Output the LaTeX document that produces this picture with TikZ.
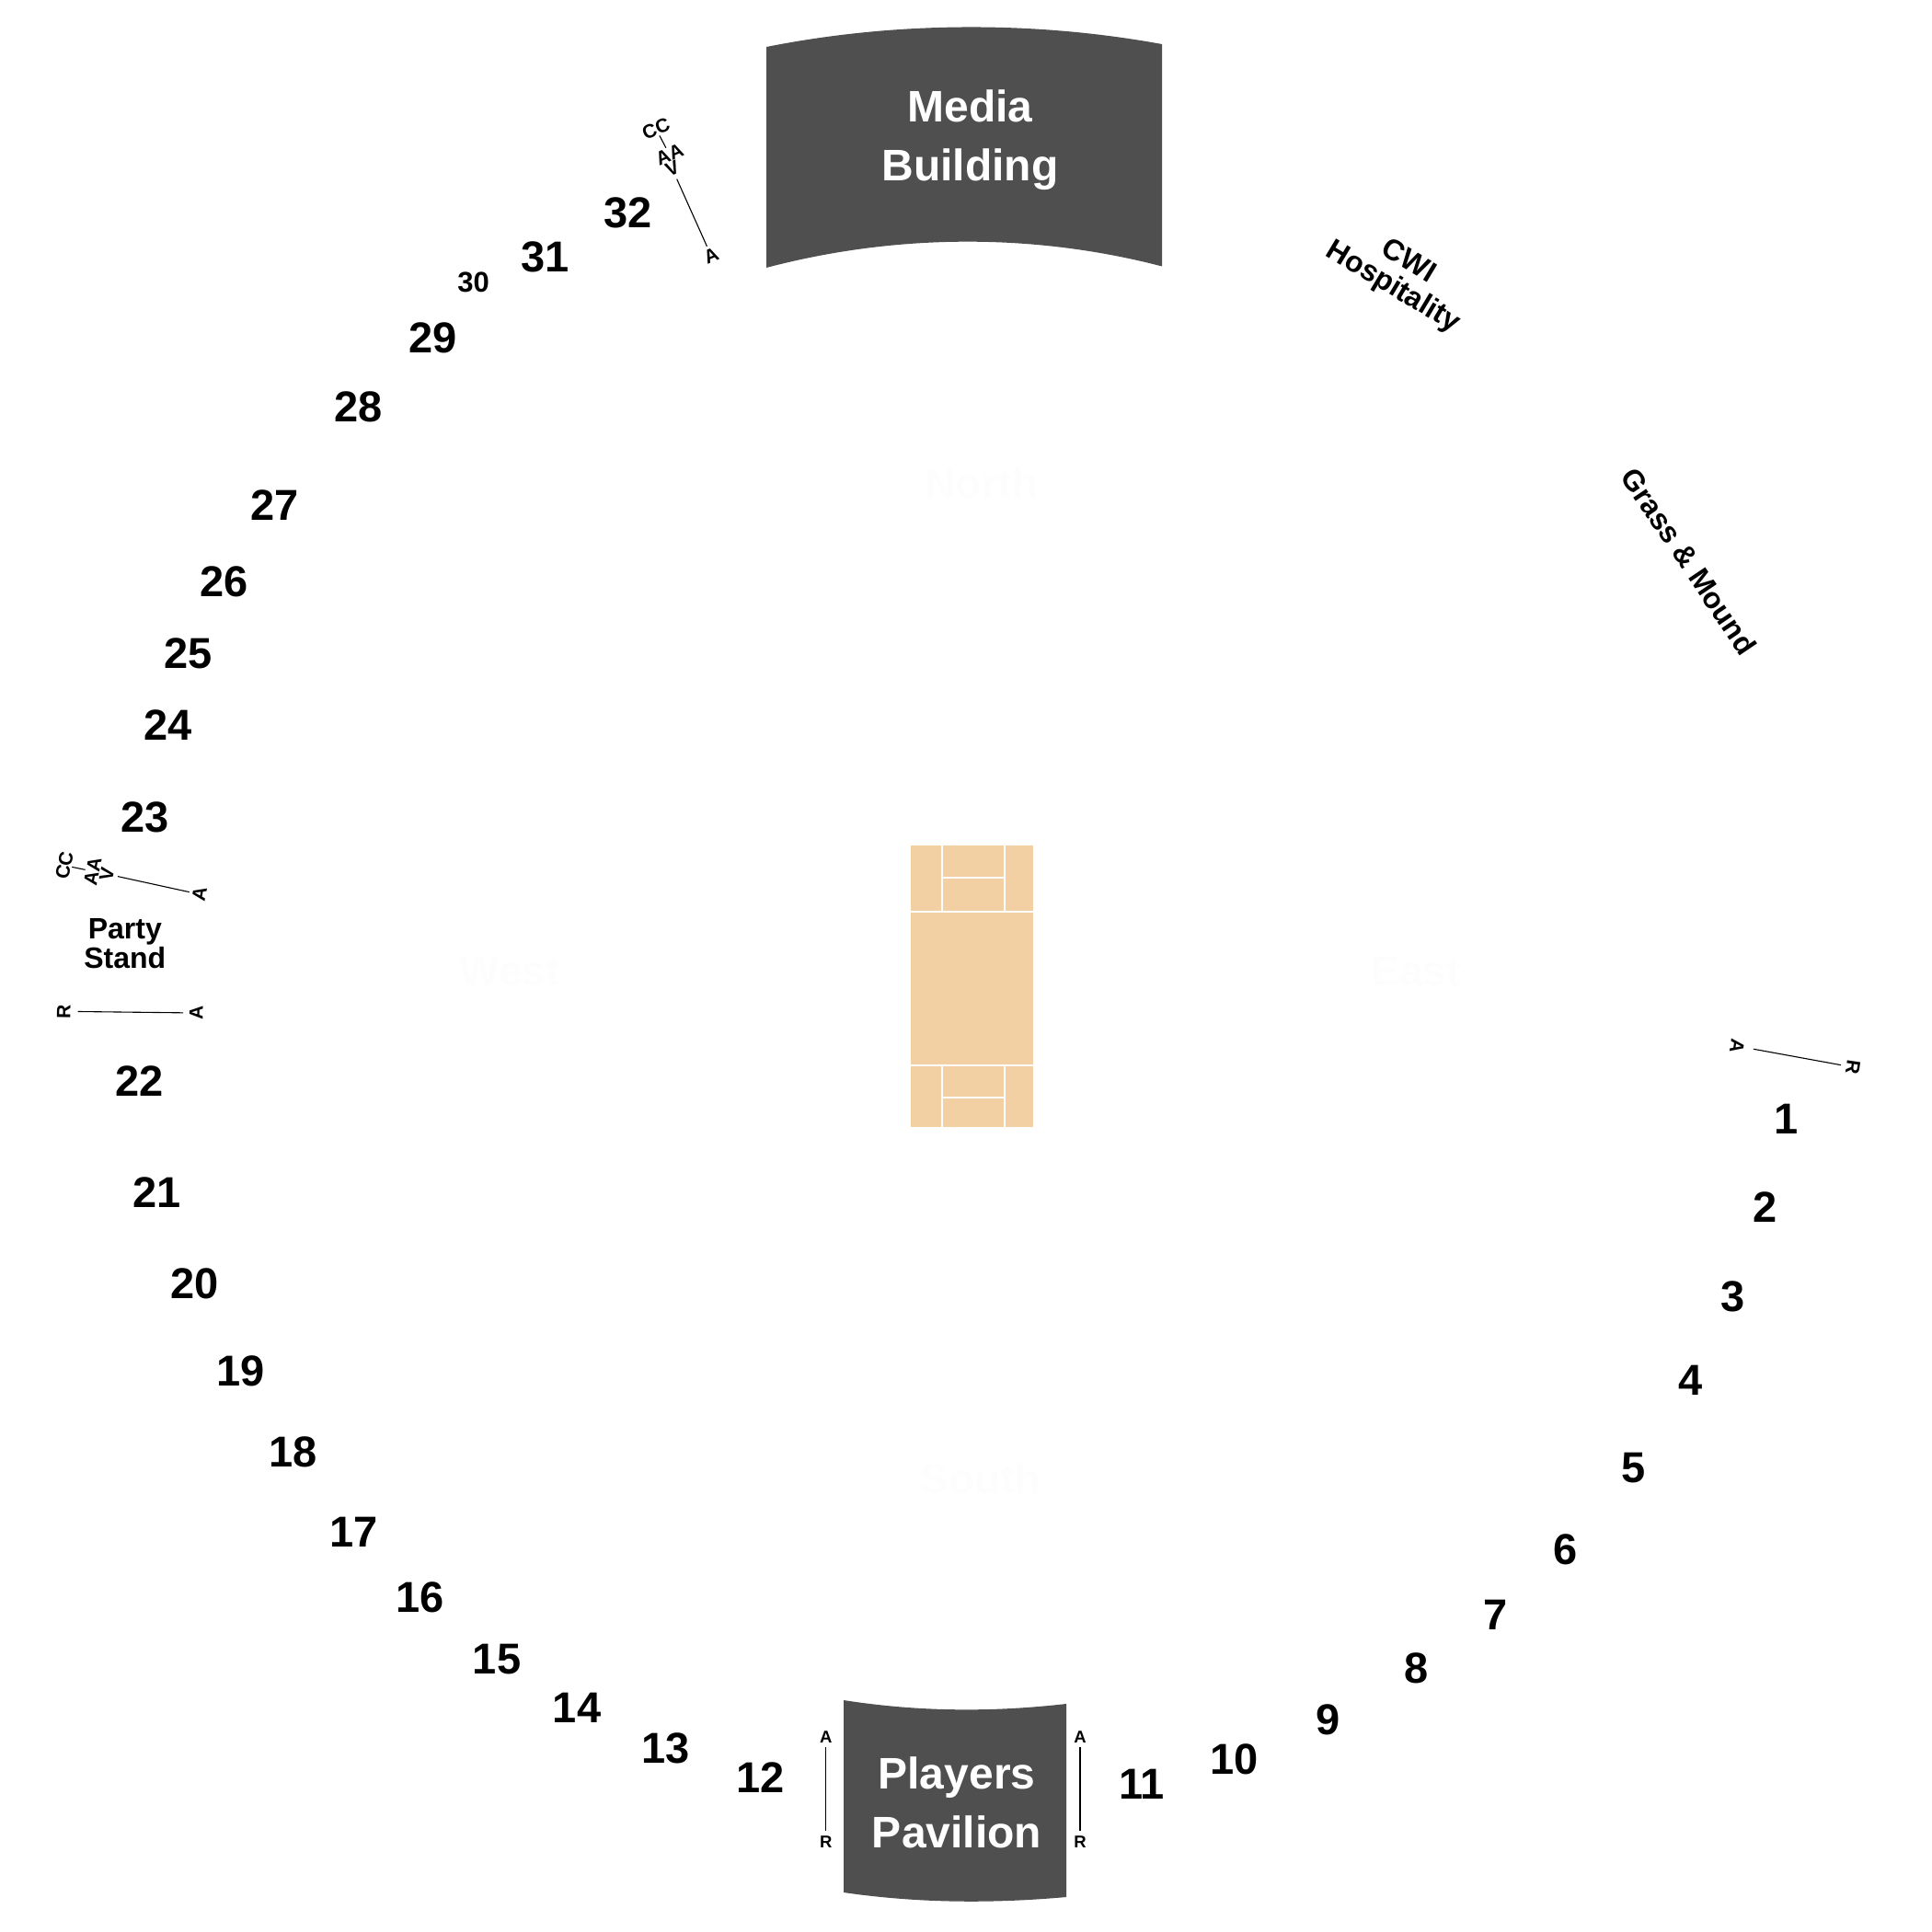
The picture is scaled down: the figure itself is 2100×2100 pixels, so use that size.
\documentclass[tikz,border=0pt]{standalone}
\usepackage{fontspec}
\setmainfont{Liberation Sans}[BoldFont={Liberation Sans Bold}]
\definecolor{bldg}{HTML}{4F4F4F}
\definecolor{pitch}{HTML}{F3D0A3}
\definecolor{ghost}{HTML}{FDFDFD}
\tikzset{
  num/.style={font=\bfseries\fontsize{47}{47}\selectfont,inner sep=0pt,outer sep=0pt,text=black},
  smallnum/.style={font=\bfseries\fontsize{31}{31}\selectfont,inner sep=0pt,outer sep=0pt,text=black},
  bigwhite/.style={font=\bfseries\fontsize{48}{64}\selectfont,text=white,align=center,inner sep=0pt},
  midblack/.style={font=\bfseries\fontsize{32}{32}\selectfont,text=black,align=center,inner sep=0pt},
  tinylet/.style={font=\bfseries\fontsize{18.5}{18.5}\selectfont,text=black,inner sep=0pt,outer sep=0pt},
  rotlet/.style={font=\bfseries\fontsize{21}{21}\selectfont,text=black,inner sep=0pt,outer sep=0pt},
  ghostlabel/.style={font=\bfseries\fontsize{46}{46}\selectfont,text=ghost,inner sep=0pt},
  seg/.style={draw=black,line width=1.1pt},
  pitchline/.style={draw=white,line width=2pt}
}
\begin{document}
\begin{tikzpicture}[x=1pt,y=-1pt]
\useasboundingbox (0,0) rectangle (2100,2100);
% Buildings
\fill[bldg] (833,51) .. controls (975,22.8) and (1125,22.8) .. (1263,48) -- (1263,289.5)
  .. controls (1125,253.5) and (975,253.5) .. (833,291) -- cycle;
\fill[bldg] (917,1848) .. controls (1000,1861) and (1080,1861) .. (1159,1852) -- (1159,2062)
  .. controls (1080,2069) and (1000,2069) .. (917,2057) -- cycle;
\node[bigwhite] (media) at (1054.6,152) {Media\\Building};
\node[bigwhite] (players) at (1040,1959) {Players\\Pavilion};
% Faint compass labels
\node[ghostlabel] (north) at (1067,525.5) {North};
\node[ghostlabel] (west) at (554,1056) {West};
\node[ghostlabel] (east) at (1539,1056) {East};
\node[ghostlabel] (south) at (1066,1607) {South};
% Pitch
\fill[pitch] (990,919) rectangle (1123,1225);
\draw[pitchline] (990,990.7) -- (1123,990.7);
\draw[pitchline] (990,1157.7) -- (1123,1157.7);
\draw[pitchline] (1024,919) -- (1024,990.7);
\draw[pitchline] (1092,919) -- (1092,990.7);
\draw[pitchline] (1024,1157.7) -- (1024,1225);
\draw[pitchline] (1092,1157.7) -- (1092,1225);
\draw[pitchline] (1024,953.7) -- (1092,953.7);
\draw[pitchline] (1024,1192.7) -- (1092,1192.7);
% Section numbers
\foreach \t/\x/\y in {1/1449/908,2/1432/979,3/1406/1052,4/1371/1120,5/1325/1191,6/1270/1257,7/1213/1310,8/1149/1353,9/1077/1395,10/1001/1427,11/926/1447,12/617/1442,13/540/1418,14/468/1385,15/403/1346,16/341/1296,17/287/1243,18/238/1178,19/195/1112,20/158/1041,21/127.5/967,22/113/877,23/117.5/663,24/136.5/588,25/152.5/530,26/181.5/472,27/222.5/410,28/291/330,29/351/274,31/442/208.5,32/509.5/172.5}
  \node[num] (n\t) at ({1.34*\x},{1.34*\y}) {\t};
\node[smallnum] (n30) at ({1.34*384},{1.34*229}) {30};
% Area labels
\node[midblack] (party) at (135.8,1026) {Party\\Stand};
\node[midblack,rotate=-31] (cwi) at (1522,299) {CWI\\Hospitality};
\node[midblack,rotate=-56] (grass) at (1836,610) {Grass \& Mound};
% Top-left aisle
\node[rotlet,rotate=23] (tcc) at (713,140) {CC};
\node[rotlet,rotate=23] (taa) at (727.7,168) {AA};
\node[rotlet,rotate=23] (tv) at (730.7,183.5) {V};
\node[rotlet,rotate=23] (ta) at (773,278) {A};
\draw[seg,shorten <=1pt,shorten >=1pt] (tcc) -- (taa);
\draw[seg,shorten <=5pt,shorten >=4pt] (tv) -- (ta);
% Left aisle
\node[rotlet,rotate=79] (lcc) at (70,940.7) {CC};
\node[rotlet,rotate=79] (laa) at (100.7,947) {AA};
\node[rotlet,rotate=79] (lv) at (116,950) {V};
\node[rotlet,rotate=79] (la) at (216.7,972) {A};
\draw[seg,shorten <=1pt,shorten >=1pt] (lcc) -- (laa);
\draw[seg,shorten <=5pt,shorten >=4pt] (lv) -- (la);
\node[rotlet,rotate=89] (lr2) at (69.3,1099.3) {R};
\node[rotlet,rotate=89] (la2) at (213.3,1101) {A};
\draw[seg,shorten <=8pt,shorten >=7pt] (lr2) -- (la2);
% Right aisle
\node[rotlet,rotate=-98.6] (ra) at (1888,1137) {A};
\node[rotlet,rotate=-98.6] (rr) at (2014,1160) {R};
\draw[seg,shorten <=11pt,shorten >=6pt] (ra) -- (rr);
% Pavilion aisles
\node[tinylet] (pa1) at (897.7,1888) {A};
\node[tinylet] (pr1) at (897.7,2001.7) {R};
\draw[seg,shorten <=5pt,shorten >=5pt] (pa1) -- (pr1);
\node[tinylet] (pa2) at (1174,1888) {A};
\node[tinylet] (pr2) at (1174,2001.7) {R};
\draw[seg,shorten <=5pt,shorten >=5pt] (pa2) -- (pr2);
\end{tikzpicture}
\end{document}
